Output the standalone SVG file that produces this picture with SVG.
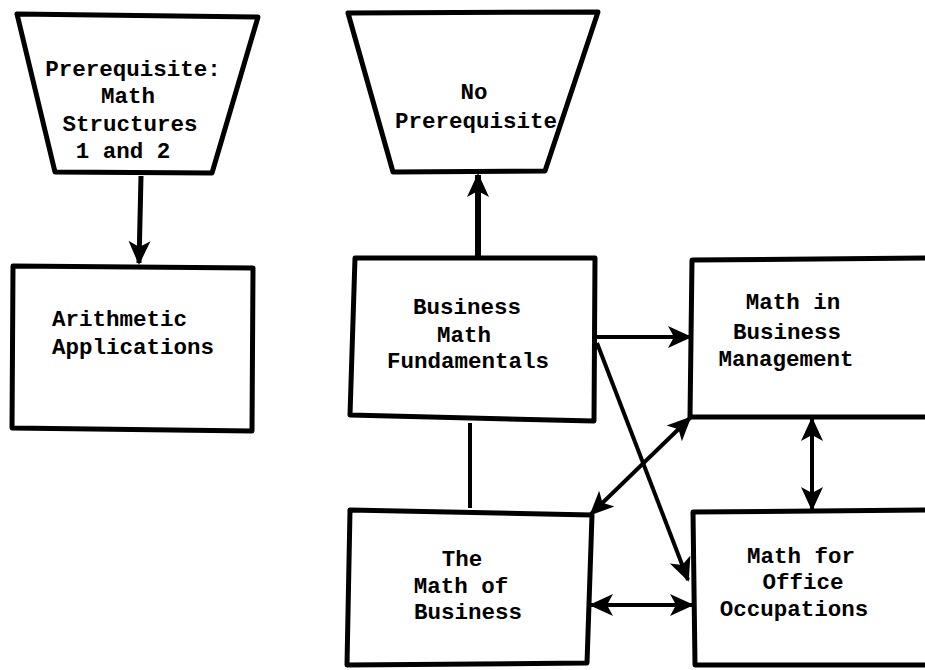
<svg xmlns="http://www.w3.org/2000/svg" width="925" height="670" viewBox="0 0 925 670">
<style>
.node{fill:#fff;stroke:#000;stroke-width:5;stroke-linejoin:round}
.t{font-family:"Liberation Mono","DejaVu Sans Mono",monospace;font-weight:bold;font-size:22.5px;fill:#000;text-anchor:middle}
.c{fill:none;stroke:#000;stroke-width:4}
</style>
<defs>
<marker id="ah" markerUnits="userSpaceOnUse" markerWidth="24" markerHeight="24" viewBox="0 0 24 24" refX="22" refY="12" orient="auto-start-reverse">
<path d="M0,1 L24,12 L0,23 L6,12 Z" fill="#000"/>
</marker>
</defs>
<rect width="925" height="670" fill="#fff"/>
<g id="prereq-ms">
<polygon class="node" points="17,14 258,17 212,173 55,172"/>
<text class="t" x="133" y="76">Prerequisite:</text>
<text class="t" x="128" y="103">Math</text>
<text class="t" x="130" y="131">Structures</text>
<text class="t" x="123" y="158">1 and 2</text>
</g>
<g id="arith">
<polygon class="node" points="13,266 253,268 252,431 12,428"/>
<text class="t" x="52" y="326" style="text-anchor:start">Arithmetic</text>
<text class="t" x="52" y="354" style="text-anchor:start">Applications</text>
</g>
<g id="noprereq">
<polygon class="node" points="348,13 598,12 545,171 393,172"/>
<text class="t" x="474" y="99">No</text>
<text class="t" x="476" y="128">Prerequisite</text>
</g>
<g id="bmf">
<polygon class="node" points="355,258 595,258 594,421 350,415"/>
<text class="t" x="467" y="314">Business</text>
<text class="t" x="464" y="342">Math</text>
<text class="t" x="468" y="368">Fundamentals</text>
</g>
<g id="mob">
<polygon class="node" points="350,510 592,515 587,663 347,665"/>
<text class="t" x="462" y="566">The</text>
<text class="t" x="461" y="593">Math of</text>
<text class="t" x="468" y="619">Business</text>
</g>
<g id="mbm">
<polygon class="node" points="692,260 935,258 935,417 690,417"/>
<text class="t" x="793" y="309">Math in</text>
<text class="t" x="787" y="339">Business</text>
<text class="t" x="786" y="366">Management</text>
</g>
<g id="moo">
<polygon class="node" points="693,512 935,510 935,665 695,665"/>
<text class="t" x="801" y="563">Math for</text>
<text class="t" x="803" y="589">Office</text>
<text class="t" x="794" y="616">Occupations</text>
</g>
<g id="connectors">
<path class="c" d="M141,176 L139,263" style="stroke-width:5" marker-end="url(#ah)"/>
<path class="c" d="M478,257 L478,175" style="stroke-width:6" marker-end="url(#ah)"/>
<path class="c" d="M470,423 L470,508"/>
<path class="c" d="M596,337 L690,337" marker-end="url(#ah)"/>
<path class="c" d="M597,343 L688,580" marker-end="url(#ah)"/>
<path class="c" d="M591,514 L690,418" marker-start="url(#ah)" marker-end="url(#ah)"/>
<path class="c" d="M812,419 L812,509" marker-start="url(#ah)" marker-end="url(#ah)"/>
<path class="c" d="M591,605 L692,605" marker-start="url(#ah)" marker-end="url(#ah)"/>
</g>
</svg>
